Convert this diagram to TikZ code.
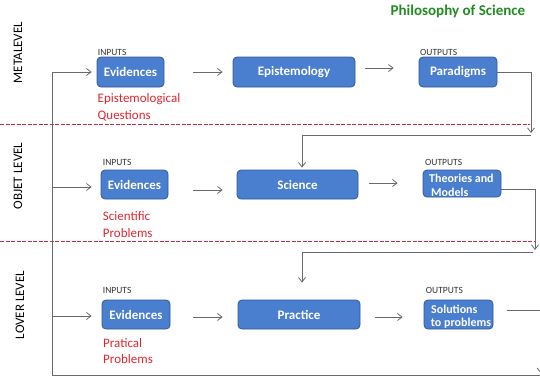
\documentclass[tikz,border=0pt]{standalone}
\usepackage{fontspec}
\setmainfont{Carlito}
\usetikzlibrary{arrows.meta}
\definecolor{boxblue}{RGB}{74,126,206}
\definecolor{boxedge}{RGB}{50,88,150}
\definecolor{redtxt}{RGB}{226,38,48}
\definecolor{dashred}{RGB}{196,48,58}
\definecolor{titlegreen}{RGB}{34,139,34}
\definecolor{linegray}{RGB}{105,105,105}
\begin{document}
\begin{tikzpicture}[x=1pt,y=-1pt,
  box/.style={draw=boxedge, fill=boxblue, rounded corners=4pt, line width=0.8pt, text=white, font=\fontsize{13}{15}\selectfont\bfseries, inner sep=0pt},
  boxtxt/.style={text=white, font=\fontsize{12}{14}\selectfont\bfseries, inner sep=0pt, anchor=base west},
  arr/.style={draw=linegray, line width=0.8pt, -{Straight Barb[length=4.5pt,width=7pt]}},
  ln/.style={draw=linegray, line width=0.8pt},
  iolbl/.style={font=\fontsize{9.5}{11}\selectfont, text=black!80, inner sep=0pt, anchor=base west},
  problem/.style={font=\fontsize{13}{15}\selectfont, text=redtxt, inner sep=0pt, anchor=base west},
  levellbl/.style={font=\fontsize{13}{15}\selectfont, text=black, inner sep=0pt, rotate=90, anchor=center},
  dashline/.style={draw=dashred, line width=1pt, dash pattern=on 4pt off 1.5pt}
]
\useasboundingbox (0,0) rectangle (540,380);

% title
\node[font=\fontsize{15}{17}\selectfont\bfseries, text=titlegreen, inner sep=0pt, anchor=base west] (title) at (390.5,15) {Philosophy of Science};

% level labels
\node[levellbl] (lv1) at (18,52.5) {METALEVEL};
\node[levellbl] (lv2) at (18,176) {OBJET LEVEL};
\node[levellbl] (lv3) at (20,305) {LOVER LEVEL};

% dashed separators
\draw[dashline] (0,124) -- (530,124);
\draw[dashline] (0,241) -- (535,241);

% row 1
\node[iolbl] (in1) at (97.7,55) {INPUTS};
\node[iolbl] (out1) at (420,55) {OUTPUTS};
\node[box, minimum width=67pt, minimum height=30pt] (e1) at (130.5,72) {Evidences};
\node[box, minimum width=122pt, minimum height=30pt] (ep) at (294,72) {Epistemology};
\node[box, minimum width=78pt, minimum height=30pt] (para) at (458,72) {Paradigms};
\node[problem] (q1a) at (97.5,102.5) {Epistemological};
\node[problem] (q1b) at (97.5,119) {Questions};

% row 2
\node[iolbl] (in2) at (102.7,165) {INPUTS};
\node[iolbl] (out2) at (425,165) {OUTPUTS};
\node[box, minimum width=67pt, minimum height=29pt] (e2) at (134.5,184.5) {Evidences};
\node[box, minimum width=121pt, minimum height=29pt] (sci) at (297.5,184.5) {Science};
\node[box, minimum width=78pt, minimum height=27pt] (theo) at (462,183.5) {};
\node[boxtxt] (theo1) at (429,182) {Theories and};
\node[boxtxt] (theo2) at (431,196.5) {Models};
\node[problem] (q2a) at (102.7,220.5) {Scientific};
\node[problem] (q2b) at (102.7,237) {Problems};

% row 3
\node[iolbl] (in3) at (102.7,293) {INPUTS};
\node[iolbl] (out3) at (425.7,293) {OUTPUTS};
\node[box, minimum width=68pt, minimum height=29pt] (e3) at (136,314.5) {Evidences};
\node[box, minimum width=122pt, minimum height=29pt] (prac) at (299,314.5) {Practice};
\node[box, minimum width=69pt, minimum height=29pt] (sol) at (458.5,314.5) {};
\node[boxtxt] (sol1) at (431,313) {Solutions};
\node[boxtxt] (sol2) at (430.7,326.5) {to problems};
\node[problem] (q3a) at (103,347) {Pratical};
\node[problem] (q3b) at (103,363.5) {Problems};

% horizontal arrows within rows
\draw[arr, shorten <=29pt, shorten >=10pt] (e1.east) -- (ep.west);
\draw[arr, shorten <=10pt, shorten >=25pt] ([yshift=4pt]ep.east) -- ([yshift=4pt]para.west);
\draw[arr, shorten <=25pt, shorten >=14pt] ([yshift=-5.5pt]e2.east) -- ([yshift=-5.5pt]sci.west);
\draw[arr, shorten <=11pt, shorten >=25pt] ([yshift=1.5pt]sci.east) -- ([yshift=0.5pt]theo.west);
\draw[arr, shorten <=23pt, shorten >=15pt] ([yshift=-2.5pt]e3.east) -- ([yshift=-2.5pt]prac.west);
\draw[arr, shorten <=15pt, shorten >=21pt] ([yshift=-2.5pt]prac.east) -- ([yshift=-2.5pt]sol.west);

% feedback from Paradigms to Science
\coordinate (c1) at (531,133);
\coordinate (c1b) at (531,135);
\draw[arr] (para.east) -| (c1);
\draw[ln] (c1b) -- (302,135);
\draw[arr, shorten >=2pt] (302,135) -- ([xshift=4.5pt]sci.north);

% feedback from Theories to Practice
\coordinate (c2) at (535,250);
\coordinate (c2b) at (533,252);
\draw[arr] ([yshift=-5.5pt]theo.east) -| (c2);
\draw[ln] (c2b) -- (302,252);
\draw[arr, shorten >=17pt] (302,252) -- ([xshift=3pt]prac.north);

% from Solutions to the right edge and down
\coordinate (c3) at (540.5,310);
\coordinate (c3b) at (540.5,373);
\draw[ln, shorten <=14pt] ([yshift=4.5pt]sol.east) -- (c3);
\draw[arr] (c3) -- (c3b);

% bottom return line and inputs
\coordinate (br) at (540,375);
\coordinate (bl) at (52,375);
\coordinate (tl) at (52,72);
\coordinate (ml) at (52,187);
\coordinate (ll) at (52,316);
\draw[ln] (br) -- (bl) -- (tl);
\draw[arr] (tl) -- ([xshift=-5pt]e1.west);
\draw[arr] (ml) -- ([xshift=-9pt,yshift=-2.5pt]e2.west);
\draw[arr] (ll) -- ([xshift=-10pt,yshift=-1.5pt]e3.west);
\end{tikzpicture}
\end{document}
